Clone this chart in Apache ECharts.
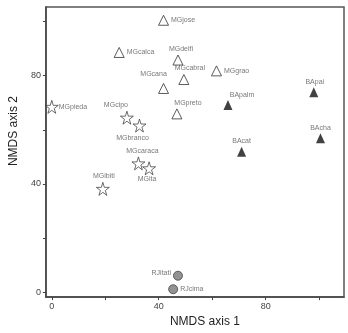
<!DOCTYPE html>
<html>
<head>
<meta charset="utf-8">
<script src="https://cdn.jsdelivr.net/npm/echarts@6/dist/echarts.min.js"></script>
<style>
html, body { margin: 0; padding: 0; background: #fff; }
#main { width: 348px; height: 333px; }
</style>
</head>
<body>
<div id="main"></div>
<script>
// open triangles (MG sites)
let mgTriNames = ['MGjose', 'MGcalca', 'MGdelfi', 'MGcabral', 'MGcana', 'MGgrao', 'MGpreto'];
let mgTriX = [41.8, 25.2, 47.2, 49.4, 41.8, 61.6, 46.8];
let mgTriY = [100.5, 88.6, 85.8, 78.6, 75.3, 81.8, 65.9];

// open stars (MG sites)
let mgStarNames = ['MGpieda', 'MGcipo', 'MGbranco', 'MGcaraca', 'MGita', 'MGibiti'];
let mgStarX = [0, 28.1, 32.8, 32.4, 36.4, 19.1];
let mgStarY = [68.5, 64.5, 61.6, 47.6, 45.8, 38.2];

// filled triangles (BA sites)
let baNames = ['BApalm', 'BApai', 'BAcha', 'BAcat'];
let baX = [65.9, 98.0, 100.5, 71.0];
let baY = [69.2, 73.9, 56.9, 51.9];

// grey circles (RJ sites)
let rjNames = ['RJitati', 'RJcima'];
let rjX = [47.2, 45.4];
let rjY = [6.1, 1.1];

let tickValues = [0, 20, 40, 60, 80, 100];
let labelValues = [0, 40, 80];

// where each point's name is written
let labelPlace = {
  MGjose: ['right', 0, 0], MGcalca: ['right', 0, 0], MGdelfi: ['top', 3, 0],
  MGcabral: ['top', 6, 0], MGcana: ['top', -10, -3], MGgrao: ['right', 0, 0],
  MGpreto: ['top', 11, 0], MGpieda: ['right', -2, 0], MGcipo: ['top', -11, 0],
  MGbranco: ['bottom', -7, 0], MGcaraca: ['top', 4, 0], MGita: ['bottom', -2, -2],
  MGibiti: ['top', 1, 0], BApalm: ['top', 14, 1], BApai: ['top', 1, 0],
  BAcha: ['top', 0, 0], BAcat: ['top', 0, 0], RJitati: ['left', 0, -3],
  RJcima: ['right', 0, 0]
};

function makeData(names, xs, ys) {
  return names.map(function (n, i) {
    let p = labelPlace[n];
    return {
      name: n,
      value: [xs[i], ys[i]],
      label: { position: p[0], offset: [p[1], p[2]] }
    };
  });
}

let starPath = 'path://M50,0 L61,35 L98,35 L68,57 L79,91 L50,70 L21,91 L32,57 L2,35 L39,35 Z';

let pointLabel = {
  show: true,
  formatter: '{b}',
  fontSize: 7,
  color: '#555',
  fontFamily: 'Liberation Sans, Arial, sans-serif',
  distance: 2
};

let myChart = echarts.init(document.getElementById('main'));
let option = {
  animation: false,
  grid: {
    left: 35, top: 7, right: 4, bottom: 28,
    show: true, borderColor: '#555', borderWidth: 1.5
  },
  xAxis: {
    type: 'value',
    min: -2.2, max: 109.3,
    name: 'NMDS axis 1',
    nameLocation: 'middle',
    nameGap: 17,
    nameTextStyle: { fontSize: 12, color: '#222', padding: [0, 0, 0, 20], verticalAlign: 'top',
      fontFamily: 'Liberation Sans, Arial, sans-serif' },
    splitLine: { show: false },
    axisLine: { onZero: false, lineStyle: { color: '#444', width: 1.5 } },
    axisTick: { length: 3, lineStyle: { color: '#444' }, customValues: tickValues },
    axisLabel: { customValues: labelValues, fontSize: 9, color: '#444', margin: 5,
      fontFamily: 'Liberation Sans, Arial, sans-serif' }
  },
  yAxis: {
    type: 'value',
    min: -1.8, max: 105.4,
    name: 'NMDS axis 2',
    nameLocation: 'middle',
    nameGap: 17,
    nameRotate: 90,
    nameTextStyle: { fontSize: 12, color: '#222', padding: [0, 0, 0, 42],
      fontFamily: 'Liberation Sans, Arial, sans-serif' },
    splitLine: { show: false },
    axisLine: { onZero: false, lineStyle: { color: '#444', width: 1.5 } },
    axisTick: { length: 3, lineStyle: { color: '#444' }, customValues: tickValues },
    axisLabel: { customValues: labelValues, fontSize: 9, color: '#444', margin: 5,
      fontFamily: 'Liberation Sans, Arial, sans-serif' }
  },
  series: [
    {
      name: 'MG triangles',
      type: 'scatter',
      symbol: 'triangle',
      symbolSize: [10, 10],
      itemStyle: { color: '#fff', borderColor: '#333', borderWidth: 1 },
      label: pointLabel,
      data: makeData(mgTriNames, mgTriX, mgTriY)
    },
    {
      name: 'MG stars',
      type: 'scatter',
      symbol: starPath,
      symbolSize: 13,
      itemStyle: { color: '#fff', borderColor: '#333', borderWidth: 0.9 },
      label: pointLabel,
      data: makeData(mgStarNames, mgStarX, mgStarY)
    },
    {
      name: 'BA',
      type: 'scatter',
      symbol: 'triangle',
      symbolSize: [9, 10],
      itemStyle: { color: '#111' },
      label: pointLabel,
      data: makeData(baNames, baX, baY)
    },
    {
      name: 'RJ',
      type: 'scatter',
      symbol: 'circle',
      symbolSize: 9,
      itemStyle: { color: '#777', borderColor: '#444', borderWidth: 1 },
      label: pointLabel,
      data: makeData(rjNames, rjX, rjY)
    }
  ]
};
option && myChart.setOption(option);
</script>
</body>
</html>
